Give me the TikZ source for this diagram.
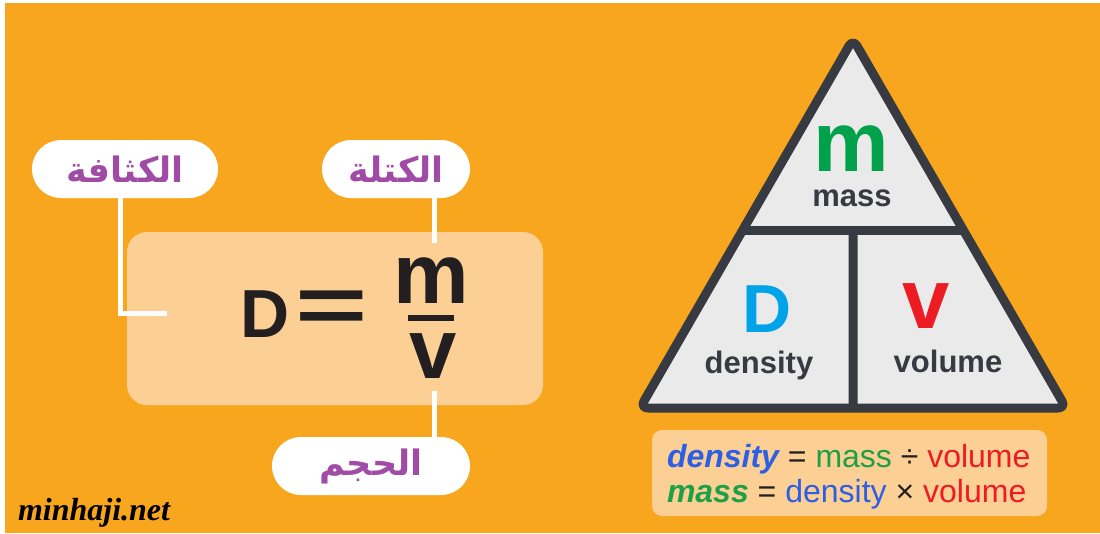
\documentclass[tikz,border=0pt]{standalone}
\usepackage{fontspec}
\setmainfont{Liberation Sans}
\newfontfamily\arabicfont[Script=Arabic]{DejaVu Sans}
\newfontfamily\markfont{Liberation Serif}
\TeXXeTstate=1
\usetikzlibrary{calc}

\definecolor{bgorange}{RGB}{247,166,29}
\definecolor{peach}{RGB}{252,207,148}
\definecolor{trifill}{RGB}{234,234,234}
\definecolor{triline}{RGB}{55,58,64}
\definecolor{ink}{RGB}{35,31,32}
\definecolor{arpurple}{RGB}{160,75,165}
\definecolor{mgreen}{RGB}{0,161,75}
\definecolor{dblue}{RGB}{0,163,232}
\definecolor{vred}{RGB}{237,28,36}
\definecolor{bblue}{RGB}{45,95,230}
\definecolor{bgreen}{RGB}{30,160,70}

\newcommand{\fsz}[1]{\fontsize{#1}{#1}\selectfont}

\begin{document}
\begin{tikzpicture}[
    x=1pt, y=-1pt,
    every node/.style={inner sep=0pt, outer sep=0pt},
    bubble/.style={rectangle, fill=white, rounded corners=29pt, minimum height=58pt, font=\arabicfont\bfseries\fsz{35}, text=arpurple},
    link/.style={draw=white, line width=5pt},
    bigletter/.style={anchor=base, font=\bfseries\fsz{85}, text=ink},
    trilabel/.style={anchor=base, font=\bfseries\fsz{31}, text=triline},
    lawline/.style={anchor=base west, font=\fsz{32}, text=ink}
]
\useasboundingbox (0,0) rectangle (1100,533);
\fill[white] (0,0) rectangle (1100,533);
\fill[bgorange] (5,3) rectangle (1100,533);

% formula side
\node[fill=peach, rounded corners=20pt, minimum width=416pt, minimum height=173pt] (formulabox) at (335,318.5) {};
\node[bigletter, font=\bfseries\fsz{68}] (fd) at (265,337) {D};
\node[bigletter, anchor=center, font=\bfseries\fsz{80}] (feq) at (332,311.5) {\scalebox{1.55}[1]{=}};
\node[bigletter] (fm) at (431,303) {m};
\node[bigletter] (fv) at (433,378) {v};
\draw[ink, line width=6pt] (408,318) -- (454,318);

\node[bubble, minimum width=186pt] (kathafa) at (125,169) {\beginR الكثافة\endR};
\node[bubble, minimum width=148pt] (kutla) at (396,169) {\beginR الكتلة\endR};
\node[bubble, minimum width=198pt] (hajm) at (371,466) {\beginR الحجم\endR};

\coordinate (dend) at (167,313);
\coordinate (mtop) at (434,243);
\coordinate (vbot) at (434,391);
\draw[link] ([xshift=-5pt]kathafa.south) |- (dend);
\draw[link] (kutla.south -| mtop) -- (mtop);
\draw[link] (vbot) -- (hajm.north -| vbot);

% triangle
\coordinate (apex) at (853,39);
\coordinate (bl) at (640,408);
\coordinate (br) at (1066,408);
\coordinate (ml) at ($(bl)!0.48!(apex)$);
\coordinate (mr) at ($(br)!0.48!(apex)$);
\coordinate (mid) at ($(ml)!0.5!(mr)$);
\coordinate (bm) at ($(bl)!0.5!(br)$);
\fill[trifill] (apex) -- (br) -- (bl) -- cycle;
\draw[triline, line width=9pt] (ml) -- (mr);
\draw[triline, line width=9pt] (mid) -- (bm);
\draw[triline, line width=9pt, line join=round, rounded corners=8pt] (apex) -- (br) -- (bl) -- cycle;

\node[bigletter, text=mgreen] (tm) at (851,171) {m};
\node[trilabel] (tmass) at (852,206) {mass};
\node[bigletter, font=\bfseries\fsz{68}, text=dblue] (td) at (767,332) {D};
\node[trilabel] (tdens) at (759,373) {density};
\node[bigletter, text=vred] (tv) at (926,328) {v};
\node[trilabel] (tvol) at (948,372) {volume};

% laws
\node[fill=peach, rounded corners=10pt, minimum width=395pt, minimum height=86pt] (lawbox) at (849.5,473) {};
\node[lawline] (law1) at (667,467) {\textcolor{bblue}{\bfseries\itshape density} = \textcolor{bgreen}{mass} ÷ \textcolor{vred}{volume}};
\node[lawline] (law2) at (667,502) {\textcolor{bgreen}{\bfseries\itshape mass} = \textcolor{bblue}{density} × \textcolor{vred}{volume}};

\node[anchor=base west, font=\markfont\bfseries\itshape\fsz{32}] (mark) at (18,520) {minhaji.net};
\end{tikzpicture}
\end{document}
